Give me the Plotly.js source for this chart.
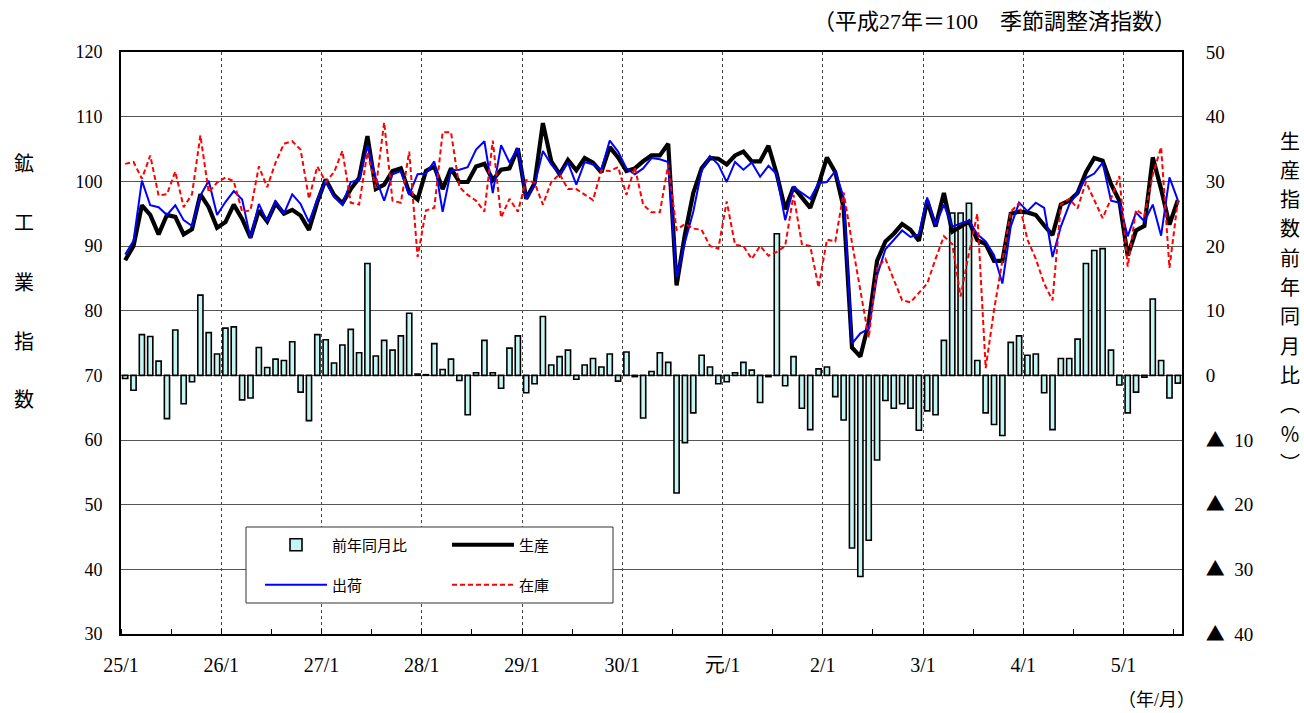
<!DOCTYPE html>
<html><head><meta charset="utf-8">
<script src="https://cdn.plot.ly/plotly-3.0.1.min.js"></script>
<style>html,body{margin:0;padding:0;background:#fff}#chart{width:1304px;height:713px}</style>
</head><body><div id="chart"></div>
<script>
// Months 2013-01 (平成25年1月) .. 2023-07 (令和5年7月)
const months = [
 "2013-01","2013-02","2013-03","2013-04","2013-05","2013-06","2013-07","2013-08","2013-09","2013-10","2013-11","2013-12",
 "2014-01","2014-02","2014-03","2014-04","2014-05","2014-06","2014-07","2014-08","2014-09","2014-10","2014-11","2014-12",
 "2015-01","2015-02","2015-03","2015-04","2015-05","2015-06","2015-07","2015-08","2015-09","2015-10","2015-11","2015-12",
 "2016-01","2016-02","2016-03","2016-04","2016-05","2016-06","2016-07","2016-08","2016-09","2016-10","2016-11","2016-12",
 "2017-01","2017-02","2017-03","2017-04","2017-05","2017-06","2017-07","2017-08","2017-09","2017-10","2017-11","2017-12",
 "2018-01","2018-02","2018-03","2018-04","2018-05","2018-06","2018-07","2018-08","2018-09","2018-10","2018-11","2018-12",
 "2019-01","2019-02","2019-03","2019-04","2019-05","2019-06","2019-07","2019-08","2019-09","2019-10","2019-11","2019-12",
 "2020-01","2020-02","2020-03","2020-04","2020-05","2020-06","2020-07","2020-08","2020-09","2020-10","2020-11","2020-12",
 "2021-01","2021-02","2021-03","2021-04","2021-05","2021-06","2021-07","2021-08","2021-09","2021-10","2021-11","2021-12",
 "2022-01","2022-02","2022-03","2022-04","2022-05","2022-06","2022-07","2022-08","2022-09","2022-10","2022-11","2022-12",
 "2023-01","2023-02","2023-03","2023-04","2023-05","2023-06","2023-07"
];

// 前年同月比 (%), right axis
const yoy = [
 -0.5, -2.3, 6.3, 6.0, 2.2, -6.7, 7.0, -4.4, -1.0, 12.4, 6.6, 3.3,
 7.3, 7.5, -3.8, -3.5, 4.3, 1.2, 2.5, 2.3, 5.2, -2.6, -7.0, 6.3,
 5.5, 1.9, 4.7, 7.1, 3.5, 17.3, 3.0, 5.4, 3.9, 6.1, 9.6, 0.2,
 0.1, 4.9, 0.9, 2.5, -0.8, -6.1, 0.4, 5.4, 0.4, -2.0, 4.2, 6.1,
 -2.7, -1.3, 9.1, 1.6, 2.9, 3.9, -0.6, 1.6, 2.6, 1.3, 3.3, -0.9,
 3.6, -0.2, -6.6, 0.6, 3.5, 2.0, -18.2, -10.4, -5.8, 3.1, 1.3, -1.3,
 -1.0, 0.4, 2.0, 0.8, -4.2, -0.2, 21.9, -1.6, 2.9, -5.1, -8.4, 1.0,
 1.3, -3.3, -6.9, -26.7, -31.1, -25.5, -13.1, -3.9, -5.1, -4.4, -5.1, -8.5,
 -5.5, -6.1, 5.4, 25.1, 25.1, 26.6, 2.3, -5.8, -7.6, -9.3, 5.1, 6.1,
 3.1, 3.3, -2.7, -8.4, 2.6, 2.6, 5.6, 17.3, 19.3, 19.6, 3.9, -1.5,
 -5.8, -2.6, -0.3, 11.8, 2.3, -3.5, -1.2
];

// 生産
const production = [
 87.8, 90.0, 96.3, 94.8, 91.8, 94.8, 94.5, 91.8, 92.6, 98.0, 96.0, 92.8,
 93.7, 96.4, 94.2, 91.3, 95.5, 93.8, 96.6, 95.0, 95.6, 94.7, 92.5, 96.8,
 100.3, 97.9, 96.6, 98.8, 100.5, 107.0, 98.8, 99.5, 101.6, 102.0, 98.3, 97.2,
 101.6, 102.3, 98.8, 102.0, 99.9, 99.9, 102.3, 102.7, 100.2, 101.8, 102.0, 105.1,
 97.3, 99.7, 109.0, 103.1, 101.1, 103.3, 101.7, 103.6, 102.9, 101.4, 105.3, 103.7,
 101.6, 102.0, 103.1, 104.0, 104.0, 105.8, 83.9, 91.8, 98.2, 102.0, 103.6, 103.5,
 102.6, 104.0, 104.6, 103.1, 103.1, 105.5, 101.1, 95.7, 99.1, 97.6, 95.9, 99.5,
 103.7, 101.4, 95.9, 74.3, 72.9, 78.1, 87.7, 90.7, 91.9, 93.4, 92.5, 90.8,
 97.0, 93.0, 98.2, 92.2, 93.0, 93.8, 90.9, 90.3, 87.7, 87.7, 95.0, 95.3,
 95.2, 94.8, 93.2, 91.7, 96.4, 97.0, 98.2, 101.4, 103.6, 103.2, 99.6, 97.0,
 88.5, 92.4, 93.1, 103.7, 98.8, 93.3, 97.1
];

// 出荷
const shipments = [
 88.7, 90.8, 100.1, 96.3, 96.0, 94.8, 96.3, 94.0, 93.1, 97.8, 100.1, 94.8,
 96.8, 98.5, 97.2, 91.2, 96.5, 93.8, 97.0, 95.0, 98.0, 96.5, 93.7, 97.2,
 100.1, 97.6, 96.4, 99.9, 100.2, 105.5, 100.5, 97.0, 101.1, 101.6, 97.9, 101.1,
 101.2, 103.1, 95.3, 101.7, 101.8, 102.2, 104.9, 106.2, 98.2, 105.6, 102.9, 105.1,
 97.3, 99.4, 104.7, 102.6, 101.1, 102.9, 99.5, 103.0, 102.6, 101.8, 106.3, 104.6,
 102.0, 101.1, 102.0, 103.6, 103.4, 103.0, 85.1, 90.6, 95.3, 101.7, 103.9, 102.6,
 99.9, 103.0, 101.8, 102.9, 100.7, 102.4, 101.1, 94.0, 99.1, 98.2, 97.3, 99.7,
 99.9, 101.6, 97.5, 74.9, 76.5, 77.2, 85.4, 89.5, 90.9, 92.4, 91.4, 91.8,
 97.5, 93.2, 96.4, 93.0, 93.5, 93.9, 91.8, 90.7, 88.6, 84.2, 93.0, 96.7,
 95.4, 96.7, 95.9, 88.3, 93.0, 96.4, 98.3, 100.5, 101.2, 102.9, 97.0, 96.7,
 91.5, 95.2, 93.8, 96.4, 91.6, 100.6, 97.1
];

// 在庫
const inventory = [
 102.7, 103.0, 100.4, 104.0, 97.8, 98.0, 101.5, 96.0, 98.0, 107.1, 98.3, 99.8,
 100.6, 100.0, 95.3, 95.5, 102.3, 99.1, 102.9, 105.8, 106.2, 104.9, 97.3, 102.3,
 99.9, 101.4, 104.7, 96.7, 96.4, 104.5, 99.0, 109.1, 97.0, 96.7, 104.6, 88.3,
 95.5, 95.9, 107.6, 107.6, 99.1, 97.9, 97.0, 95.3, 106.3, 94.4, 97.3, 95.3,
 100.2, 99.8, 96.4, 99.9, 101.1, 98.8, 98.8, 98.0, 97.1, 101.7, 101.6, 102.2,
 97.9, 102.2, 96.4, 95.2, 95.2, 102.6, 92.5, 93.4, 92.7, 92.5, 90.0, 89.6,
 96.9, 90.2, 90.0, 88.0, 90.0, 88.5, 89.1, 90.0, 97.9, 90.3, 90.0, 83.6,
 91.0, 90.7, 98.3, 90.5, 83.0, 75.8, 86.6, 88.0, 84.8, 81.6, 81.3, 82.7,
 84.2, 88.0, 91.5, 90.3, 82.2, 88.9, 95.0, 71.1, 80.1, 87.7, 95.3, 96.6,
 91.0, 88.0, 84.2, 81.6, 96.4, 97.3, 95.8, 99.9, 97.0, 94.3, 97.3, 100.8,
 86.8, 95.6, 94.7, 101.0, 105.3, 86.6, 97.0
];

const yearLabels = ["25/1","26/1","27/1","28/1","29/1","30/1","元/1","2/1","3/1","4/1","5/1"];
const leftTickVals = [30,40,50,60,70,80,90,100,110,120];
const rightTickVals = [-40,-30,-20,-10,0,10,20,30,40,50];
const rightTickText = ["▲ 40","▲ 30","▲ 20","▲ 10","0","10","20","30","40","50"];
const seriesNames = {yoy:"前年同月比", prod:"生産", ship:"出荷", inv:"在庫"};
const leftTitle = "鉱工業指数";
const rightTitle = ["生","産","指","数","前","年","同","月","比","︵","％","︶"];
const topNote = "（平成27年＝100　季節調整済指数）";
const unitNote = "（年/月）";

// ---- layout helpers (pixel -> paper) ----
const W = 1304, H = 713, L = 121, R = 1182, T = 52, B = 634;
const px = x => (x - L) / (R - L);
const py = y => (B - y) / (B - T);

const idx = months.map((m, i) => i);
const yearTickVals = yearLabels.map((s, j) => j * 12 - 0.5);

const FONT = 'Liberation Serif, "Noto Sans CJK JP", serif';
const JFONT = '"Noto Sans CJK JP", sans-serif';

// right tick labels: full-width triangle glyph
const rightTickHtml = rightTickText.map(t => t.startsWith("▲")
  ? "<span style=\"font-family:'Noto Sans CJK JP'\">▲</span>\u00a0\u00a0" + t.slice(2)
  : t);

const traces = [
  {type:'bar', x: idx, y: yoy, name: seriesNames.yoy, yaxis:'y', xaxis:'x',
   marker:{color:'#c6f6f3', line:{color:'#000', width:1.6}}, width:0.62,
   legend:'legend', hoverinfo:'skip'},
  {type:'scatter', mode:'lines', x: idx, y: production, name: seriesNames.prod, yaxis:'y2',
   line:{color:'#000', width:4.2}, legend:'legend', hoverinfo:'skip'},
  {type:'scatter', mode:'lines', x: idx, y: shipments, name: seriesNames.ship, yaxis:'y2',
   line:{color:'#0000ff', width:2}, legend:'legend2', hoverinfo:'skip'},
  {type:'scatter', mode:'lines', x: idx, y: inventory, name: seriesNames.inv, yaxis:'y2',
   line:{color:'#ff0000', width:2, dash:'5px,3px'}, legend:'legend2', hoverinfo:'skip'}
];

const ann = (x, y, text, font) => ({xref:'paper', yref:'paper', x: px(x), y: py(y), text,
  showarrow:false, xanchor:'center', yanchor:'middle', font});

const annotations = [
  ann(994, 22, topNote, {family:FONT, size:22, color:'#000'}),
  ann(1156, 700, unitNote, {family:FONT, size:18, color:'#000'})
];
const leftYs = [162, 222, 281, 340, 398];
leftTitle.split('').forEach((ch, i) =>
  annotations.push(ann(24, leftYs[i], ch, {family:JFONT, size:20, color:'#000'})));
rightTitle.forEach((ch, i) =>
  annotations.push(ann(1290, 140 + i * 29.3, ch, {family:JFONT, size:20, color:'#000'})));

const legendCommon = {orientation:'h', xanchor:'left', yanchor:'middle', bgcolor:'rgba(0,0,0,0)',
  borderwidth:0, entrywidth:110, entrywidthmode:'pixels', itemwidth:62,
  font:{family:JFONT, size:15, color:'#000'}, itemclick:false, itemdoubleclick:false};

const layout = {
  width: W, height: H,
  margin:{l: L, r: W - R, t: T, b: H - B, pad:0},
  paper_bgcolor:'#fff', plot_bgcolor:'#fff',
  font:{family: FONT, size:19, color:'#000'},
  showlegend:true,
  legend: Object.assign({x: px(260), y: py(545)}, legendCommon),
  legend2: Object.assign({x: px(260), y: py(585)}, legendCommon),
  bargap:0,
  xaxis:{range:[-0.5, months.length - 0.5], tickmode:'array', tickvals: yearTickVals, ticktext: yearLabels,
    showgrid:true, gridcolor:'#444', griddash:'dot', gridwidth:1, zeroline:false,
    showline:true, mirror:true, linecolor:'#000', linewidth:2, ticks:'', ticklabelstandoff:12,
    tickfont:{family:FONT, size:20, color:'#000'},
    minor:{tickmode:'linear', tick0:-0.5, dtick:6, ticks:'inside', ticklen:5, tickcolor:'#000', showgrid:false}},
  yaxis:{range:[-40, 50], side:'right', tickmode:'array', tickvals: rightTickVals, ticktext: rightTickHtml,
    showgrid:true, gridcolor:'#555', gridwidth:1, zeroline:false,
    showline:true, linecolor:'#000', linewidth:2, ticks:'', ticklabelstandoff:18,
    tickfont:{family:FONT, size:19, color:'#000'}},
  yaxis2:{range:[30, 120], side:'left', overlaying:'y', tickmode:'array', tickvals: leftTickVals,
    showgrid:false, zeroline:false, showline:true, linecolor:'#000', linewidth:2, ticks:'',
    ticklabelstandoff:13, tickfont:{family:FONT, size:18, color:'#000'}},
  shapes:[
    {type:'rect', xref:'paper', yref:'paper', x0: px(246), x1: px(613), y0: py(527), y1: py(603),
     line:{color:'#333', width:1}, fillcolor:'#fff', layer:'above'}
  ],
  annotations: annotations
};

Plotly.newPlot('chart', traces, layout, {staticPlot:true, displayModeBar:false});
</script>
</body></html>
